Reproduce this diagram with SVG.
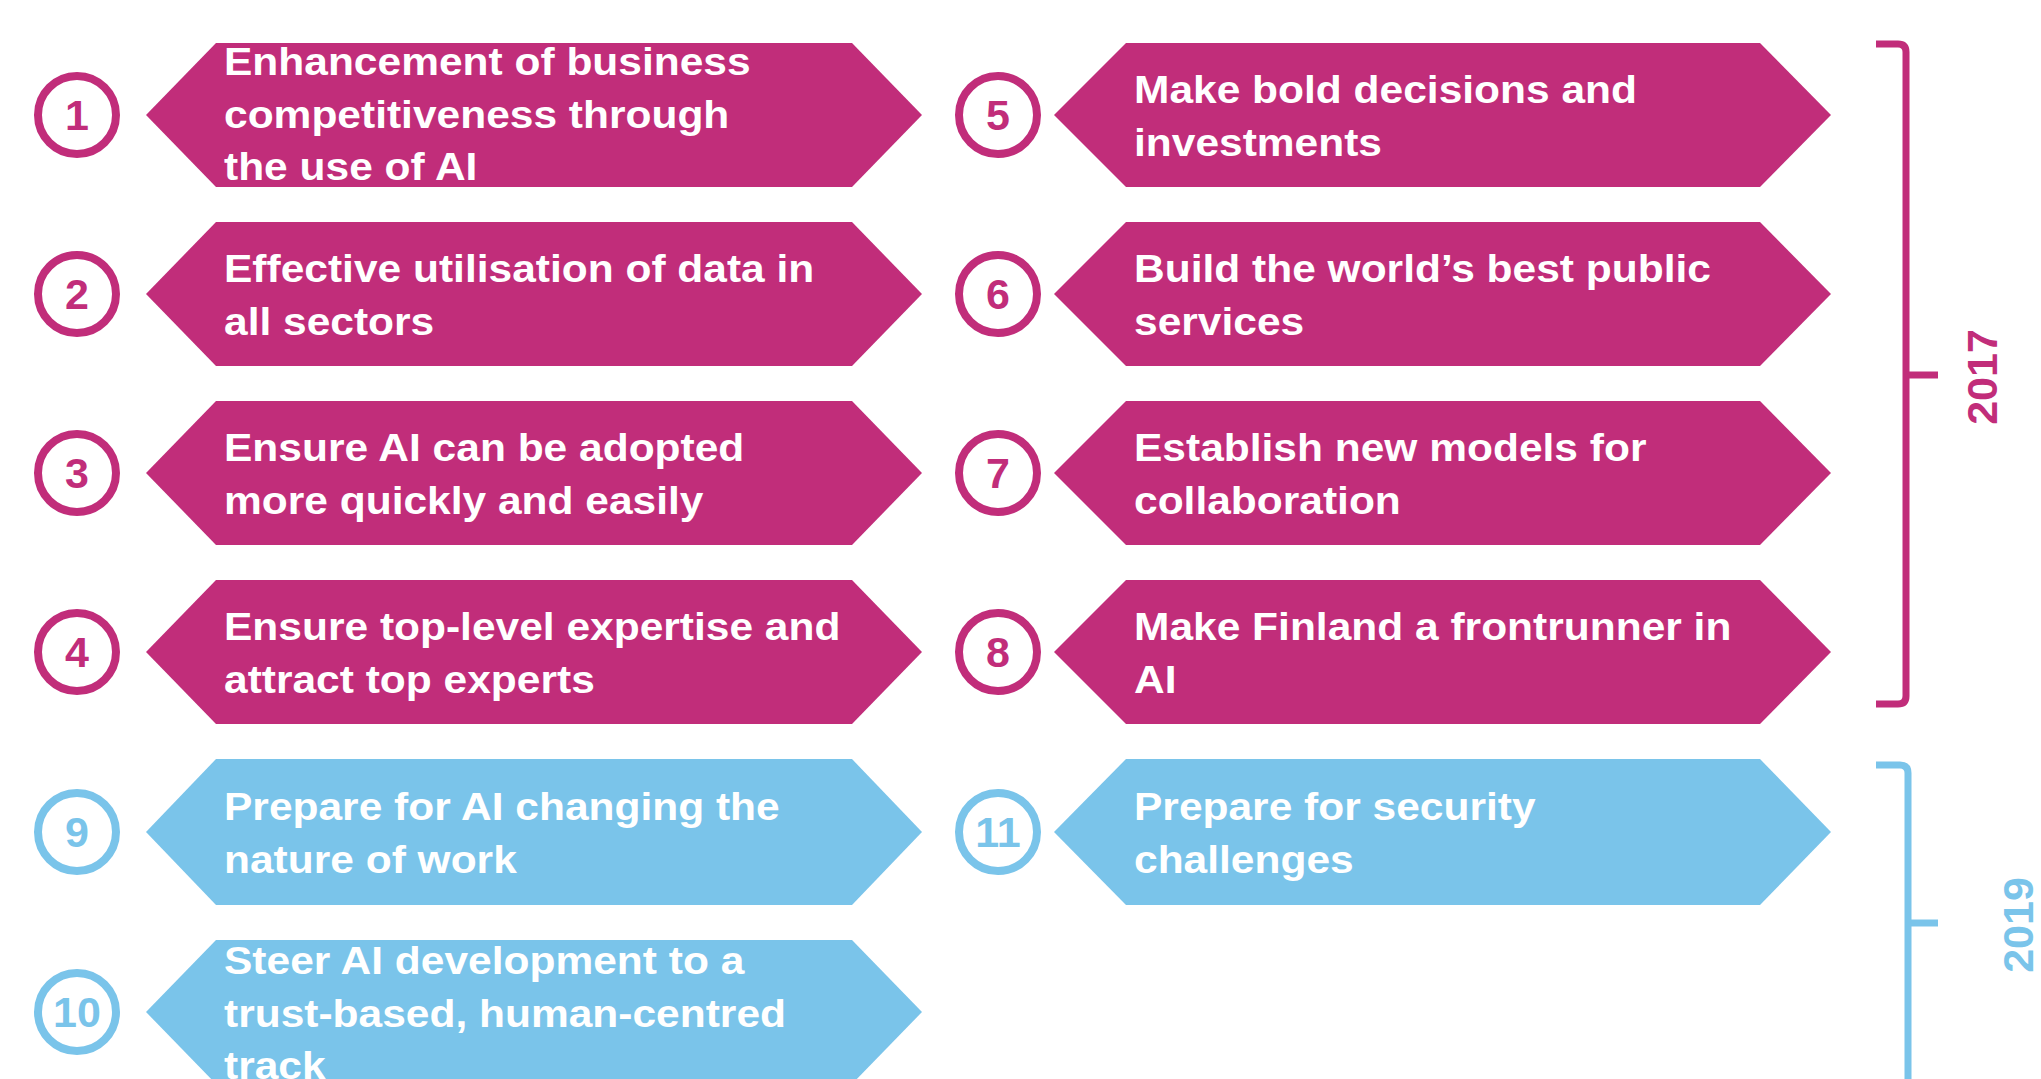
<svg xmlns="http://www.w3.org/2000/svg" width="2041" height="1079" viewBox="0 0 2041 1079">
<style>
.m{fill:#C12D7A}
.b{fill:#7AC4EA}
.cm{fill:#fff;stroke:#C12D7A;stroke-width:8}
.cb{fill:#fff;stroke:#7AC4EA;stroke-width:8}
.nm{fill:#C12D7A;font-family:"Liberation Sans",Arial,sans-serif;font-weight:bold;font-size:43px;text-anchor:middle}
.nb{fill:#7AC4EA;font-family:"Liberation Sans",Arial,sans-serif;font-weight:bold;font-size:43px;text-anchor:middle}
.t{fill:#fff;font-family:"Liberation Sans",Arial,sans-serif;font-weight:bold;font-size:39px}
.brm{fill:none;stroke:#C12D7A;stroke-width:7}
.brb{fill:none;stroke:#7AC4EA;stroke-width:7}
.ym{fill:#C12D7A;font-family:"Liberation Sans",Arial,sans-serif;font-weight:bold;font-size:43px;text-anchor:middle}
.yb{fill:#7AC4EA;font-family:"Liberation Sans",Arial,sans-serif;font-weight:bold;font-size:43px;text-anchor:middle}
</style>
<rect width="2041" height="1079" fill="#fff"/>
<g id="node1">
<circle class="cm" cx="77" cy="115" r="39"/><text class="nm" x="77" y="130">1</text>
<polygon class="m" points="146,115 216,43 852,43 922,115 852,187 216,187"/>
<text class="t" transform="translate(224,75) scale(1.09,1)"><tspan x="0" y="0">Enhancement of business</tspan><tspan x="0" y="53">competitiveness through</tspan><tspan x="0" y="105">the use of AI</tspan></text>
</g>
<g id="node2">
<circle class="cm" cx="77" cy="294" r="39"/><text class="nm" x="77" y="309">2</text>
<polygon class="m" points="146,294 216,222 852,222 922,294 852,366 216,366"/>
<text class="t" transform="translate(224,282) scale(1.09,1)"><tspan x="0" y="0">Effective utilisation of data in</tspan><tspan x="0" y="53">all sectors</tspan></text>
</g>
<g id="node3">
<circle class="cm" cx="77" cy="473" r="39"/><text class="nm" x="77" y="488">3</text>
<polygon class="m" points="146,473 216,401 852,401 922,473 852,545 216,545"/>
<text class="t" transform="translate(224,461) scale(1.09,1)"><tspan x="0" y="0">Ensure AI can be adopted</tspan><tspan x="0" y="53">more quickly and easily</tspan></text>
</g>
<g id="node4">
<circle class="cm" cx="77" cy="652" r="39"/><text class="nm" x="77" y="667">4</text>
<polygon class="m" points="146,652 216,580 852,580 922,652 852,724 216,724"/>
<text class="t" transform="translate(224,640) scale(1.09,1)"><tspan x="0" y="0">Ensure top-level expertise and</tspan><tspan x="0" y="53">attract top experts</tspan></text>
</g>
<g id="node5">
<circle class="cm" cx="998" cy="115" r="39"/><text class="nm" x="998" y="130">5</text>
<polygon class="m" points="1054,115 1126,43 1760,43 1831,115 1760,187 1126,187"/>
<text class="t" transform="translate(1134,103) scale(1.09,1)"><tspan x="0" y="0">Make bold decisions and</tspan><tspan x="0" y="53">investments</tspan></text>
</g>
<g id="node6">
<circle class="cm" cx="998" cy="294" r="39"/><text class="nm" x="998" y="309">6</text>
<polygon class="m" points="1054,294 1126,222 1760,222 1831,294 1760,366 1126,366"/>
<text class="t" transform="translate(1134,282) scale(1.09,1)"><tspan x="0" y="0">Build the world’s best public</tspan><tspan x="0" y="53">services</tspan></text>
</g>
<g id="node7">
<circle class="cm" cx="998" cy="473" r="39"/><text class="nm" x="998" y="488">7</text>
<polygon class="m" points="1054,473 1126,401 1760,401 1831,473 1760,545 1126,545"/>
<text class="t" transform="translate(1134,461) scale(1.09,1)"><tspan x="0" y="0">Establish new models for</tspan><tspan x="0" y="53">collaboration</tspan></text>
</g>
<g id="node8">
<circle class="cm" cx="998" cy="652" r="39"/><text class="nm" x="998" y="667">8</text>
<polygon class="m" points="1054,652 1126,580 1760,580 1831,652 1760,724 1126,724"/>
<text class="t" transform="translate(1134,640) scale(1.09,1)"><tspan x="0" y="0">Make Finland a frontrunner in</tspan><tspan x="0" y="53">AI</tspan></text>
</g>
<g id="node9">
<circle class="cb" cx="77" cy="832" r="39"/><text class="nb" x="77" y="847">9</text>
<polygon class="b" points="146,832 216,759 852,759 922,832 852,905 216,905"/>
<text class="t" transform="translate(224,820) scale(1.09,1)"><tspan x="0" y="0">Prepare for AI changing the</tspan><tspan x="0" y="53">nature of work</tspan></text>
</g>
<g id="node10">
<circle class="cb" cx="77" cy="1012" r="39"/><text class="nb" x="77" y="1027">10</text>
<polygon class="b" points="146,1012 216,940 852,940 922,1012 852,1084 216,1084"/>
<text class="t" transform="translate(224,974) scale(1.09,1)"><tspan x="0" y="0">Steer AI development to a</tspan><tspan x="0" y="53">trust-based, human-centred</tspan><tspan x="0" y="105">track</tspan></text>
</g>
<g id="node11">
<circle class="cb" cx="998" cy="832" r="39"/><text class="nb" x="998" y="847">11</text>
<polygon class="b" points="1054,832 1126,759 1760,759 1831,832 1760,905 1126,905"/>
<text class="t" transform="translate(1134,820) scale(1.09,1)"><tspan x="0" y="0">Prepare for security</tspan><tspan x="0" y="53">challenges</tspan></text>
</g>
<g id="connectors">
<path class="brm" d="M1876,44 H1898 Q1906,44 1906,52 V696 Q1906,704 1898,704 H1876"/>
<path class="brm" d="M1906,375 H1938"/>
<path class="brb" d="M1876,765 H1900 Q1908,765 1908,773 V1085"/>
<path class="brb" d="M1908,923 H1938"/>
</g>
<g id="year2017"><text class="ym" transform="translate(1997,377) rotate(-90)">2017</text></g>
<g id="year2019"><text class="yb" transform="translate(2033,925) rotate(-90)">2019</text></g>
</svg>
